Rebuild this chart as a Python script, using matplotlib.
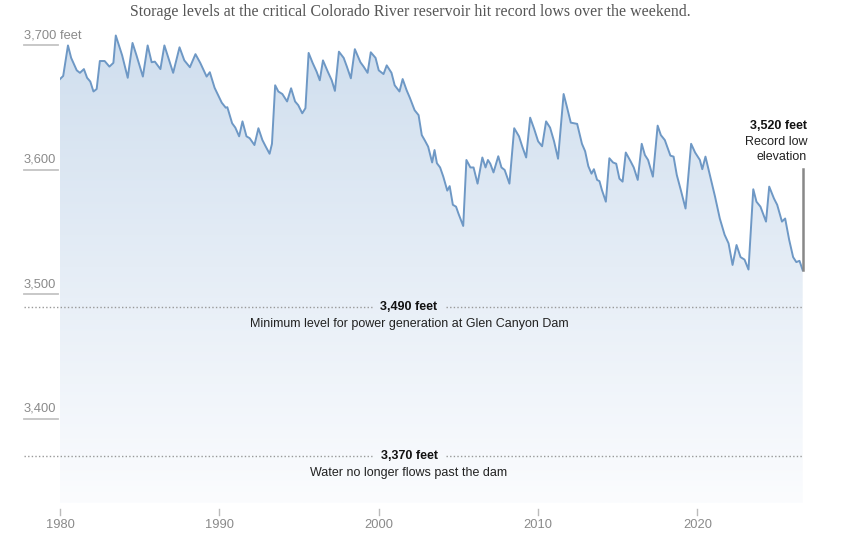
import numpy as np
import matplotlib.pyplot as plt
from matplotlib.colors import LinearSegmentedColormap
from matplotlib.transforms import blended_transform_factory

# ------------------------------------------------------------------ DATA
# Lake level (feet) at each visible turn
YEARS = [
    1980.0, 1980.2, 1980.5, 1980.7, 1981.05, 1981.25, 1981.5, 1981.7, 1981.9,
    1982.1, 1982.3, 1982.5, 1982.8, 1983.1, 1983.35, 1983.5, 1983.9, 1984.25,
    1984.55, 1984.8, 1985.2, 1985.5, 1985.75, 1985.95, 1986.3, 1986.55, 1986.8,
    1987.1, 1987.5, 1987.8, 1988.15, 1988.5, 1988.8, 1989.2, 1989.4, 1989.7,
    1990.15, 1990.4, 1990.5, 1990.8, 1991.0, 1991.24, 1991.45, 1991.7, 1991.9,
    1992.2, 1992.45, 1992.7, 1992.9, 1993.15, 1993.3, 1993.5, 1993.7, 1993.95,
    1994.25, 1994.5, 1994.75, 1994.95, 1995.2, 1995.4, 1995.6, 1995.85, 1996.1,
    1996.3, 1996.5, 1996.8, 1997.05, 1997.25, 1997.5, 1997.8, 1998.0, 1998.25,
    1998.5, 1998.85, 1999.05, 1999.3, 1999.5, 1999.8, 2000.0, 2000.3, 2000.5,
    2000.8, 2001.0, 2001.3, 2001.5, 2001.75, 2001.95, 2002.25, 2002.5, 2002.7,
    2002.9, 2003.1, 2003.35, 2003.5, 2003.65, 2003.85, 2004.05, 2004.3, 2004.45,
    2004.65, 2004.85, 2005.0, 2005.3, 2005.5, 2005.75, 2005.95, 2006.2, 2006.5,
    2006.7, 2006.85, 2007.0, 2007.2, 2007.5, 2007.7, 2007.9, 2008.2, 2008.5,
    2008.8, 2009.0, 2009.25, 2009.5, 2009.75, 2010.0, 2010.25, 2010.5, 2010.75,
    2011.0, 2011.25, 2011.6, 2011.8, 2012.05, 2012.45, 2012.75, 2012.95, 2013.15,
    2013.35, 2013.5, 2013.7, 2013.85, 2014.0, 2014.25, 2014.47, 2014.7, 2014.9,
    2015.1, 2015.3, 2015.5, 2015.8, 2016.0, 2016.25, 2016.5, 2016.7, 2016.9,
    2017.2, 2017.5, 2017.7, 2017.95, 2018.3, 2018.5, 2018.7, 2018.95, 2019.25,
    2019.6, 2019.85, 2020.15, 2020.3, 2020.5, 2020.8, 2021.1, 2021.4, 2021.7,
    2021.95, 2022.2, 2022.45, 2022.7, 2022.95, 2023.2, 2023.5, 2023.7, 2023.95,
    2024.3, 2024.5, 2024.8, 2025.0, 2025.3, 2025.5, 2025.75, 2026.0, 2026.2,
    2026.4, 2026.6,
]
LEVEL = [
    3673, 3675.5, 3700, 3690, 3680, 3678, 3681, 3674, 3671,
    3663, 3665, 3687.5, 3687.5, 3683, 3686, 3708, 3692, 3674,
    3702, 3692, 3675, 3700, 3686.5, 3687, 3681, 3700, 3690,
    3678, 3698.5, 3688, 3682.5, 3693, 3686, 3675, 3678.5, 3666,
    3654, 3650, 3650.4, 3637.5, 3634, 3627, 3639, 3627, 3625.5,
    3620, 3633.5, 3624, 3619, 3613, 3621, 3668, 3663, 3661,
    3655, 3665.6, 3655, 3652, 3645.5, 3649.6, 3694, 3686, 3679,
    3672, 3688, 3679, 3672, 3663.5, 3695, 3690, 3683, 3673.6,
    3697, 3686.5, 3683, 3678, 3694.5, 3690, 3680, 3677, 3684,
    3678, 3668, 3663, 3673, 3664, 3658, 3648, 3644, 3628,
    3623.5, 3618.7, 3606, 3616, 3605.4, 3602, 3594.6, 3583.4, 3587,
    3572, 3570.5, 3565, 3555, 3608, 3602, 3602, 3589, 3610,
    3602, 3608, 3605, 3598, 3611, 3602, 3600, 3589, 3633.5,
    3627, 3619, 3610, 3642, 3633, 3623, 3619, 3639, 3634,
    3623, 3609, 3661, 3651, 3638, 3637, 3621, 3615, 3603,
    3597, 3600.6, 3592, 3591, 3584, 3574.5, 3609.4, 3606, 3605,
    3593, 3590.6, 3614, 3607, 3602, 3592, 3621, 3612, 3608,
    3594.6, 3635.6, 3628, 3624, 3611.5, 3610.7, 3596, 3584, 3569,
    3621, 3614, 3608, 3600.6, 3610.7, 3594.6, 3578.6, 3561, 3548,
    3541, 3523.7, 3539.7, 3530, 3528, 3520, 3584.5, 3574.5, 3570.5,
    3558.5, 3586.6, 3577, 3572, 3558.5, 3561, 3544, 3530, 3526,
    3527, 3519.5,
]

X_TICKS = [1980, 1990, 2000, 2010, 2020]
Y_TICKS = [3700, 3600, 3500, 3400]
Y_TICK_LABELS = ["3,700 feet", "3,600", "3,500", "3,400"]

REF_LEVELS = [3490, 3370]
REF_TITLES = ["3,490 feet", "3,370 feet"]
REF_NOTES = ["Minimum level for power generation at Glen Canyon Dam",
             "Water no longer flows past the dam"]

TITLE = "Storage levels at the critical Colorado River reservoir hit record lows over the weekend."
# --------------------------------------------------------------------

W, H = 846, 535
SANS = ["Liberation Sans", "DejaVu Sans"]
SERIF = ["Liberation Serif", "DejaVu Serif"]
GREY = "#8a8a8a"
LINE_C = "#6e98c5"

def fx(px):
    return px / W

def fy(py):
    return 1 - py / H

fig = plt.figure(figsize=(W / 100, H / 100), dpi=100)
ax = fig.add_axes([fx(60), fy(503), fx(803) - fx(60), fy(30) - fy(503)])
YMIN, YMAX = 3332.5, 3712.4
XMAX = 2026.62
ax.set_xlim(1980, XMAX)
ax.set_ylim(YMIN, YMAX)
ax.axis("off")

x = np.array(YEARS)
y = np.array(LEVEL)

# gradient fill under the line
poly = ax.fill_between(x, y, YMIN, color="none", lw=0)
cmap = LinearSegmentedColormap.from_list("fade", ["#fbfcfe", "#cfdeee"])
grad = np.linspace(0, 1, 256).reshape(-1, 1)
img = ax.imshow(grad, cmap=cmap, aspect="auto", origin="lower",
                extent=[1980, XMAX, YMIN, YMAX], zorder=1)
img.set_clip_path(poly.get_paths()[0], transform=ax.transData)

ax.plot(x, y, color=LINE_C, lw=1.4, zorder=3, solid_joinstyle="round")

# y labels with short underline
ty = blended_transform_factory(fig.transFigure, ax.transData)
for v, lab in zip(Y_TICKS, Y_TICK_LABELS):
    ax.plot([fx(24), fx(58)], [v, v], transform=ty, color="#c4c4c4",
            lw=1.3, clip_on=False)
    ax.text(fx(24), v + 3.5, lab, transform=ty, ha="left", va="bottom",
            fontsize=9.3, color=GREY, family=SANS)

# reference lines
for v, t, note in zip(REF_LEVELS, REF_TITLES, REF_NOTES):
    ax.plot([fx(24), fx(372)], [v, v], transform=ty, color="#999999",
            lw=1, ls=(0, (1, 1.6)), clip_on=False, zorder=4)
    ax.plot([fx(446), fx(803)], [v, v], transform=ty, color="#999999",
            lw=1, ls=(0, (1, 1.6)), clip_on=False, zorder=4)
    ax.text(fx(409), v, t, transform=ty, ha="center", va="center",
            fontsize=9, fontweight="bold", color="#121212", family=SANS, zorder=5)
    ax.text(fx(409), v - 13.5, note, transform=ty, ha="center", va="center",
            fontsize=9, color="#222222", family=SANS, zorder=5)

# record low marker
ax.plot([XMAX, XMAX], [3600.5, LEVEL[-1]], color="#888888", lw=1.8,
        zorder=4, clip_on=False)
fig.text(fx(807), fy(126), "3,520 feet", ha="right", va="center",
         fontsize=9, fontweight="bold", color="#121212", family=SANS)
fig.text(fx(807), fy(142), "Record low", ha="right", va="center",
         fontsize=9, color="#222222", family=SANS)
fig.text(fx(807), fy(157), "elevation", ha="right", va="center",
         fontsize=9, color="#222222", family=SANS)

# x ticks
tx = blended_transform_factory(ax.transData, fig.transFigure)
for yr in X_TICKS:
    ax.plot([yr, yr], [fy(509), fy(515)], transform=tx, color="#bbbbbb",
            lw=1, clip_on=False)
    ax.text(yr, fy(525.5), str(yr), transform=tx, ha="center", va="center",
            fontsize=9.3, color=GREY, family=SANS)

fig.text(fx(410), fy(12.5), TITLE, ha="center", va="center",
         fontsize=11.4, color="#555555", family=SERIF)

fig.savefig("out.png", dpi=100)
